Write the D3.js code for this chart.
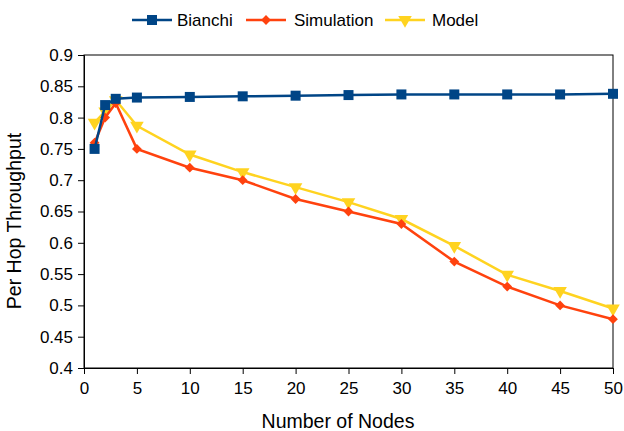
<!DOCTYPE html>
<html><head><meta charset="utf-8">
<script src="https://cdn.jsdelivr.net/npm/d3@7"></script>
<style>body{margin:0;background:#fff}svg{display:block}text{font-family:"Liberation Sans",Arial,sans-serif}</style>
</head><body>
<svg id="c" width="624" height="431"></svg>
<script>
const nodes = [1, 2, 3, 5, 10, 15, 20, 25, 30, 35, 40, 45, 50];
const bianchi = [0.75, 0.82, 0.83, 0.832, 0.833, 0.834, 0.835, 0.836, 0.837, 0.837, 0.837, 0.837, 0.838];
const simulation = [0.76, 0.80, 0.823, 0.75, 0.72, 0.70, 0.67, 0.65, 0.63, 0.57, 0.53, 0.50, 0.478];
const model = [0.792, 0.81, 0.828, 0.787, 0.741, 0.713, 0.689, 0.665, 0.638, 0.595, 0.549, 0.523, 0.495];
const xTicks = [0, 5, 10, 15, 20, 25, 30, 35, 40, 45, 50];
const yTicks = [0.4, 0.45, 0.5, 0.55, 0.6, 0.65, 0.7, 0.75, 0.8, 0.85, 0.9];

const svg = d3.select("#c");
const L = 84, R = 613, T = 55, B = 368;
const x = d3.scaleLinear().domain([0, 50]).range([L, R]);
const y = d3.scaleLinear().domain([0.4, 0.9]).range([B, T]);
const FONT = '"Liberation Sans",Arial,sans-serif';

svg.append("rect").attr("x", L).attr("y", T).attr("width", R - L).attr("height", B - T)
  .attr("fill", "none").attr("stroke", "#000").attr("stroke-width", 1);

const yAxis = svg.append("g").attr("transform", `translate(${L},0)`)
  .call(d3.axisLeft(y).tickValues(yTicks).tickSize(6).tickPadding(5).tickFormat(d => String(+d.toFixed(2))));
const xAxis = svg.append("g").attr("transform", `translate(0,${B})`)
  .call(d3.axisBottom(x).tickValues(xTicks).tickSize(6).tickPadding(8));
[yAxis, xAxis].forEach(a => {
  a.selectAll("text").attr("font-size", 17).attr("fill", "#000").style("font-family", FONT);
  a.selectAll("line").attr("stroke", "#000");
  a.select(".domain").attr("stroke", "#000");
});

svg.append("text").attr("x", 338).attr("y", 428).attr("text-anchor", "middle")
  .attr("font-size", 19.5).text("Number of Nodes");
svg.append("text").attr("transform", `translate(21,221) rotate(-90)`).attr("text-anchor", "middle")
  .attr("font-size", 19.5).text("Per Hop Throughput");

const series = [
  {name: "Bianchi", vals: bianchi, color: "#004586", sym: d3.symbolSquare, size: 100, rot: 0},
  {name: "Simulation", vals: simulation, color: "#ff420e", sym: d3.symbolSquare, size: 48, rot: 45},
  {name: "Model", vals: model, color: "#ffd320", sym: d3.symbolTriangle, size: 80, rot: 180}
];
const line = d3.line().x(d => x(d[0])).y(d => y(d[1]));
[...series].reverse().forEach(s => {
  const pts = nodes.map((n, i) => [n, s.vals[i]]);
  svg.append("path").attr("d", line(pts)).attr("fill", "none").attr("stroke", s.color).attr("stroke-width", 2.5);
  svg.selectAll(null).data(pts).enter().append("path")
    .attr("d", d3.symbol().type(s.sym).size(s.size))
    .attr("transform", d => `translate(${x(d[0])},${y(d[1])}) rotate(${s.rot})`)
    .attr("fill", s.color);
});

const leg = [{x: 132, tx: 177}, {x: 246, tx: 294}, {x: 385, tx: 432}];
series.forEach((s, i) => {
  const lx = leg[i].x, w = 40, ly = 20;
  svg.append("line").attr("x1", lx).attr("x2", lx + w).attr("y1", ly).attr("y2", ly)
    .attr("stroke", s.color).attr("stroke-width", 2.5);
  svg.append("path").attr("d", d3.symbol().type(s.sym).size(s.size))
    .attr("transform", `translate(${lx + w / 2},${ly}) rotate(${s.rot})`).attr("fill", s.color);
  svg.append("text").attr("x", leg[i].tx).attr("y", ly + 6).attr("font-size", 17).text(s.name);
});
</script>
</body></html>
